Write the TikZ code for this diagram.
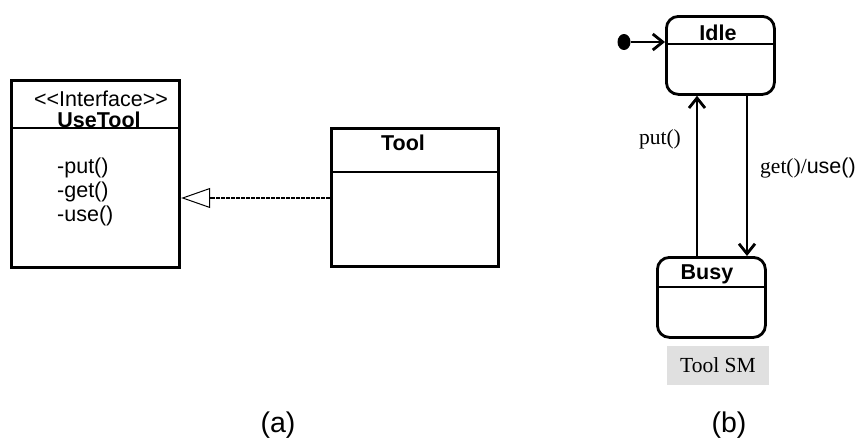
\documentclass[tikz,border=0pt]{standalone}
\usepackage{fontspec}
\setmainfont{Liberation Serif}
\setsansfont{Liberation Sans}
\usetikzlibrary{shapes.geometric,arrows.meta,positioning}

\begin{document}
\begin{tikzpicture}[
    x=1pt, y=-1pt,
    classbox/.style={rectangle, draw, line width=3.2pt, anchor=north west, inner sep=0pt},
    statebox/.style={rectangle, draw, line width=2.8pt, rounded corners=12pt,
                     anchor=north west, inner sep=0pt},
    sepline/.style={line width=2.2pt},
    sftxt/.style={font=\sffamily\fontsize{21.5}{24}\selectfont, inner sep=0pt},
    sfbold/.style={font=\sffamily\bfseries\fontsize{21.5}{24}\selectfont, inner sep=0pt},
    rmtxt/.style={font=\rmfamily\fontsize{21.5}{24}\selectfont, inner sep=0pt},
    trans/.style={line width=2.8pt,
                  -{Straight Barb[length=10pt, width=16pt, line width=2.8pt]}},
    realize/.style={line width=2.8pt, dash pattern=on 4pt off 1pt,
                    -{Triangle[open, length=29pt, width=20pt, line width=1pt, fill=white]}},
    caption/.style={font=\sffamily\fontsize{28.5}{32}\selectfont, inner sep=0pt}
  ]
    \useasboundingbox (0,0) rectangle (855,439);

    %--- (a) class diagram ---
    \node[classbox, minimum width=168pt, minimum height=187pt] (iface) at (10,79) {};
    \draw[sepline] (iface.west |- 0,128) -- (iface.east |- 0,128);
    \node[sftxt]  (stereo) at (101,99) {<\kern0pt<Interface>\kern0pt>};
    \node[sfbold] (ifname) at (99,119.5) {UseTool};
    \node[sftxt, align=left, anchor=west] (ops) at (57,192) {-put()\\-get()\\-use()};

    \node[classbox, minimum width=167pt, minimum height=138pt] (tool) at (330,127) {};
    \draw[sepline] (tool.west |- 0,172) -- (tool.east |- 0,172);
    \node[sfbold] (toolname) at (403,143) {Tool};

    \draw[realize] (tool.west |- 0,198) -- (iface.east |- 0,198);

    \node[caption] (capa) at (278,425) {(a)};

    %--- (b) state machine ---
    \node[statebox, minimum width=108pt, minimum height=78pt] (idle) at (665,15) {};
    \draw[sepline] (idle.west |- 0,44) -- (idle.east |- 0,44);
    \node[sfbold] (idlename) at (718,33) {Idle};

    \node[statebox, minimum width=108pt, minimum height=80pt] (busy) at (656,256) {};
    \draw[sepline] (busy.west |- 0,287) -- (busy.east |- 0,287);
    \node[sfbold] (busyname) at (707,274) {Busy};

    \node[ellipse, fill, inner sep=0pt, minimum width=13pt, minimum height=16pt] (init) at (624,42) {};
    \draw[trans] (init.east) -- (idle.west |- init);

    \coordinate (putx) at (697,0);
    \coordinate (getx) at (747,0);
    \draw[trans] (busy.north -| putx) -- (idle.south -| putx);
    \draw[trans] (idle.south -| getx) -- (busy.north -| getx);

    \node[rmtxt] (putlbl) at (660,139) {put()};
    \node[anchor=west, inner sep=0pt] (getlbl) at (760,168)
         {\rmfamily\fontsize{21.5}{24}\selectfont get()/\sffamily use()};

    \node[rmtxt, fill=black!12, minimum width=102pt, minimum height=39pt] (smname)
         at (718,365.5) {Tool SM};

    \node[caption] (capb) at (729,425) {(b)};
  \end{tikzpicture}
\end{document}
